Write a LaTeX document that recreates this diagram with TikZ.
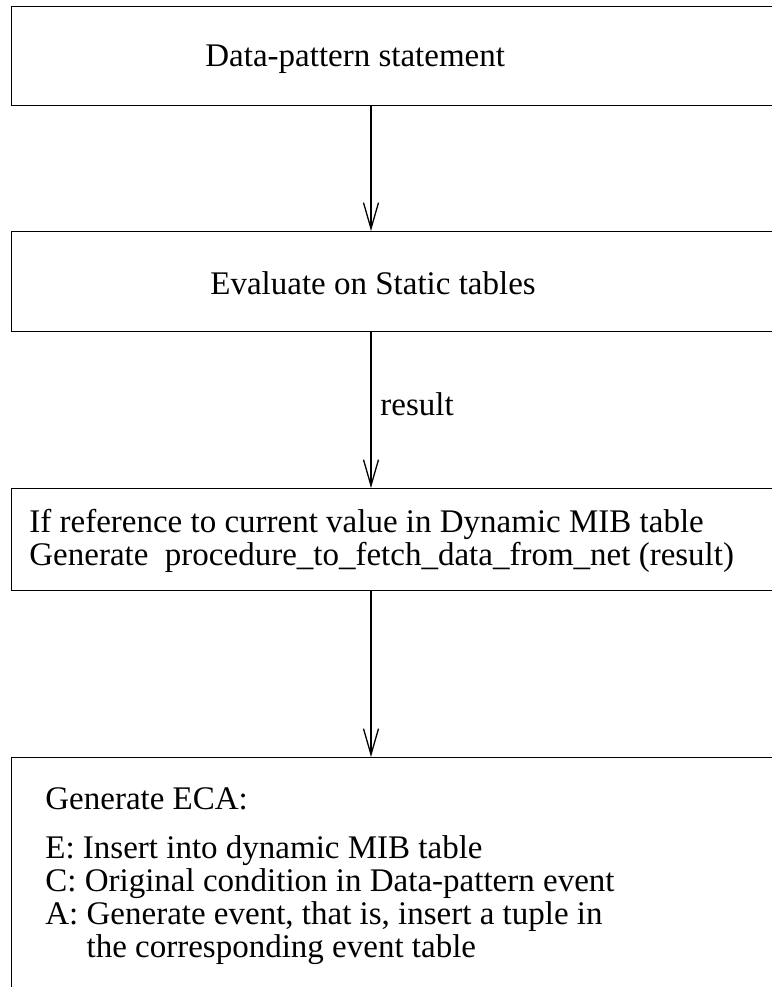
\documentclass[tikz,border=0pt]{standalone}
\usepackage{fontspec}
\setmainfont{Liberation Serif}
\usetikzlibrary{arrows.meta}

\begin{document}
\begin{tikzpicture}[x=0.5pt,y=-0.5pt,
    stage/.style={draw,line width=0.7pt,anchor=north west,minimum width=390pt,inner sep=0pt},
    caption/.style={anchor=base west,inner sep=0pt,font=\fontsize{16.5}{16.5}\selectfont},
    flow/.style={line width=0.65pt,-{Straight Barb[length=13pt,width=7.5pt]}}]
    \useasboundingbox (0,0) rectangle (772,987);
    \coordinate (spine) at (371,0);
    % Data-pattern statement
    \node[stage,minimum height=49.5pt] (pattern) at (11,6) {};
    \node[caption] (patterntext) at (205,66) {Data-pattern statement};
    % Evaluate on static tables
    \node[stage,minimum height=50pt] (static) at (11,231) {};
    \node[caption] (statictext) at (210,294) {Evaluate on Static tables};
    % Fetch from net
    \node[stage,minimum height=51pt] (fetch) at (11,488) {};
    \node[caption] (fetchif) at (29,532) {If reference to current value in Dynamic MIB table};
    \node[caption] (fetchgen) at (29,565) {Generate\ \ procedure\_to\_fetch\_data\_from\_net (result)};
    % Generate ECA box, runs off the bottom
    \node[stage,minimum height=125pt] (eca) at (11,757) {};
    \node[caption] (ecatitle) at (45,809) {Generate ECA:};
    \node[caption] (ecae) at (45,858) {E: Insert into dynamic MIB table};
    \node[caption] (ecac) at (45,891) {C: Original condition in Data-pattern event};
    \node[caption] (ecaa) at (45,924) {A: Generate event, that is, insert a tuple in};
    \node[caption] (ecaa2) at (45,957) {\phantom{A: }the corresponding event table};
    % connectors
    \draw[flow] (pattern.south -| spine) -- (static.north -| spine);
    \draw[flow] (static.south -| spine) -- (fetch.north -| spine);
    \node[caption] (result) at (380,415) {result};
    \draw[flow] (fetch.south -| spine) -- (eca.north -| spine);
\end{tikzpicture}
\end{document}
